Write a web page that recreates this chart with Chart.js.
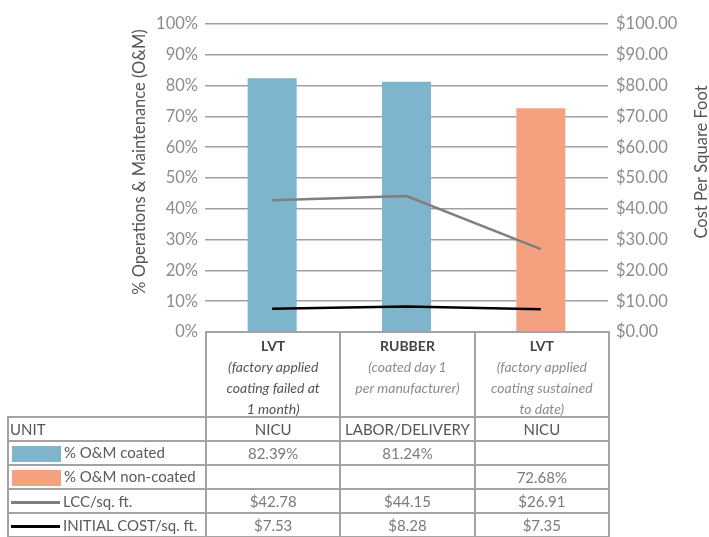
<!DOCTYPE html>
<html>
<head>
<meta charset="utf-8">
<script src="https://cdn.jsdelivr.net/npm/chart.js@4/dist/chart.umd.min.js"></script>
<style>
html, body { margin: 0; padding: 0; background: #fff; }
#wrap { position: relative; width: 709px; height: 537px; overflow: hidden; font-family: Lato, "Open Sans", sans-serif; }
#chart { position: absolute; left: 0; top: 0; }
#tbl { position: absolute; border-collapse: collapse; table-layout: fixed; color: #7a7a7a; font-size: 15px; }
#tbl td { border: 2px solid #a3a3a3; padding: 0; text-align: center; height: 22px; line-height: 20px; white-space: nowrap; }
#tbl td.blank { border: none; }
#tbl td.lbl { text-align: left; padding-left: 1px; color: #5a5a5a; }
#tbl tr.head td { height: 78px; vertical-align: top; padding-top: 3px; font-size: 14px; }
#tbl .cat { font-weight: bold; color: #444; }
#tbl .sub { font-style: italic; color: #8c8c8c; line-height: 21px; height: 60px; overflow: visible; }
#tbl .sub.dark { color: #555; }
#tbl tr.unit td { color: #555; }
.sw { display: inline-block; width: 49px; height: 16px; vertical-align: middle; margin: 0 3px 2px 2px; }
.ln { display: inline-block; width: 49px; height: 3px; vertical-align: middle; margin: 0 3px 2px 1px; }
</style>
</head>
<body>
<div id="wrap">
  <canvas id="chart" width="709" height="537"></canvas>
  <table id="tbl"></table>
</div>
<script>
// --- data ---
const categories = ['LVT', 'RUBBER', 'LVT'];
const subtitles = [
    '(factory applied<br>coating failed at<br>1 month)',
    '(coated day 1<br>per manufacturer)',
    '(factory applied<br>coating sustained<br>to date)'
];
const units = ['NICU', 'LABOR/DELIVERY', 'NICU'];
const omCoated = [82.39, 81.24, null];
const omNonCoated = [null, null, 72.68];
const lccPerSqFt = [42.78, 44.15, 26.91];
const initialCostPerSqFt = [7.53, 8.28, 7.35];

const BLUE = '#7fb5cc', SALMON = '#f3a17e', GREY_LINE = '#7f7f7f', BLACK = '#000';
const FONT = 'Lato, "Open Sans", sans-serif';

// draws the two axis titles (centred a little above the plot middle, like the original)
const axisTitles = {
    id: 'axisTitles',
    afterDraw(chart) {
        const { ctx, chartArea } = chart;
        const midY = (chartArea.top + chartArea.bottom) / 2 - 16;
        const draw = (text, x) => {
            ctx.save();
            ctx.font = '16.5px ' + FONT;
            ctx.fillStyle = '#555';
            ctx.textAlign = 'center';
            ctx.textBaseline = 'middle';
            ctx.translate(x, midY);
            ctx.rotate(-Math.PI / 2);
            ctx.fillText(text, 0, 0);
            ctx.restore();
        };
        draw('% Operations & Maintenance (O&M)', chartArea.left - 65);
        draw('Cost Per Square Foot', chartArea.right + 94);
    }
};

const chart = new Chart(document.getElementById('chart'), {
    type: 'bar',
    data: {
        labels: categories,
        datasets: [
            { label: '% O&M coated', data: omCoated, backgroundColor: BLUE, yAxisID: 'y', grouped: false, order: 2 },
            { label: '% O&M non-coated', data: omNonCoated, backgroundColor: SALMON, yAxisID: 'y', grouped: false, order: 2 },
            { type: 'line', label: 'LCC/sq. ft.', data: lccPerSqFt, borderColor: GREY_LINE, borderWidth: 2.5, pointRadius: 0, yAxisID: 'y1', order: 1 },
            { type: 'line', label: 'INITIAL COST/sq. ft.', data: initialCostPerSqFt, borderColor: BLACK, borderWidth: 2.5, pointRadius: 0, yAxisID: 'y1', order: 0 }
        ]
    },
    options: {
        responsive: false,
        animation: false,
        layout: { padding: { left: 127, right: 0, top: 24, bottom: 205 } },
        datasets: { bar: { categoryPercentage: 1, barPercentage: 0.365 } },
        plugins: { legend: { display: false }, tooltip: { enabled: false } },
        scales: {
            x: { display: false },
            y: {
                position: 'left', min: 0, max: 100,
                afterFit: (s) => { s.width = 78; },
                ticks: { stepSize: 10, padding: 7, color: '#8c8c8c', font: { family: FONT, size: 16.5 }, callback: v => v + '%' },
                grid: { color: '#a0a0a0', lineWidth: 1.5, drawTicks: false },
                border: { display: false }
            },
            y1: {
                position: 'right', min: 0, max: 100,
                afterFit: (s) => { s.width = 101; },
                ticks: { stepSize: 10, padding: 8, color: '#8c8c8c', font: { family: FONT, size: 16.5 }, callback: v => '$' + v.toFixed(2) },
                grid: { drawOnChartArea: false, drawTicks: false },
                border: { display: false }
            }
        }
    },
    plugins: [axisTitles]
});

// --- data table under the plot, lined up with the category columns ---
const area = chart.chartArea;
const tableLeft = 7;
const colW = (area.right - area.left) / 3;
const tbl = document.getElementById('tbl');
tbl.style.left = tableLeft + 'px';
tbl.style.top = (area.bottom - 1) + 'px';

let html = '<colgroup><col style="width:' + (area.left - tableLeft) + 'px">';
categories.forEach(() => { html += '<col style="width:' + colW + 'px">'; });
html += '</colgroup>';

html += '<tr class="head"><td class="blank"></td>';
categories.forEach((c, i) => {
    html += '<td><div class="cat">' + c + '</div><div class="sub' + (i === 0 ? ' dark' : '') + '">' + subtitles[i] + '</div></td>';
});
html += '</tr>';

html += '<tr class="unit"><td class="lbl">UNIT</td>' + units.map(u => '<td>' + u + '</td>').join('') + '</tr>';

const fmtPct = v => v == null ? '' : v.toFixed(2) + '%';
const fmtUsd = v => v == null ? '' : '$' + v.toFixed(2);
const rows = [
    ['<span class="sw" style="background:' + BLUE + '"></span>% O&amp;M coated', omCoated, fmtPct],
    ['<span class="sw" style="background:' + SALMON + '"></span>% O&amp;M non-coated', omNonCoated, fmtPct],
    ['<span class="ln" style="background:' + GREY_LINE + '"></span>LCC/sq. ft.', lccPerSqFt, fmtUsd],
    ['<span class="ln" style="background:' + BLACK + '"></span>INITIAL COST/sq. ft.', initialCostPerSqFt, fmtUsd]
];
rows.forEach(r => {
    html += '<tr><td class="lbl">' + r[0] + '</td>' + r[1].map(v => '<td>' + r[2](v) + '</td>').join('') + '</tr>';
});
tbl.innerHTML = html;
</script>
</body>
</html>
